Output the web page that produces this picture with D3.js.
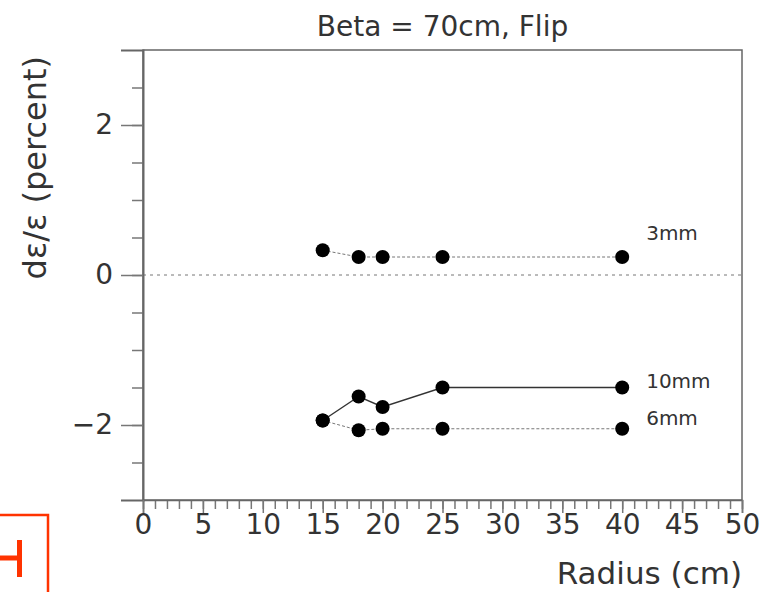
<!DOCTYPE html>
<html>
<head>
<meta charset="utf-8">
<script src="https://cdn.jsdelivr.net/npm/d3@7/dist/d3.min.js"></script>
<style>
body { margin: 0; background: #fff; }
text { font-family: "DejaVu Sans", sans-serif; fill: #333; }
</style>
</head>
<body>
<div id="chart"></div>
<script>
// values
var radius = [15, 18, 20, 25, 40];
var eps3mm = [0.33, 0.24, 0.24, 0.24, 0.24];
var eps10mm = [-1.94, -1.62, -1.76, -1.50, -1.50];
var eps6mm = [-1.94, -2.07, -2.05, -2.05, -2.05];
var seriesNames = ["3mm", "10mm", "6mm"];
var labelRadius = [42, 42, 42];
var labelEps = [0.56, -1.41, -1.91];
var xMajorTicks = [0, 5, 10, 15, 20, 25, 30, 35, 40, 45, 50];
var yMajorTicks = [-2, 0, 2];

var W = 767, H = 592;
var margin = {top: 50, right: 25, bottom: 92, left: 143},
    width = W - margin.left - margin.right,
    height = H - margin.top - margin.bottom;

var svg = d3.select("#chart").append("svg")
    .attr("width", W)
    .attr("height", H);

var g = svg.append("g")
    .attr("transform", "translate(" + margin.left + "," + margin.top + ")");

var x = d3.scaleLinear().domain([0, 50]).range([0, width]);
var y = d3.scaleLinear().domain([-3, 3]).range([height, 0]);

// frame
g.append("rect")
    .attr("width", width).attr("height", height)
    .attr("fill", "none").attr("stroke", "#666").attr("stroke-width", 1.5);

// zero line
g.append("line")
    .attr("x1", 0).attr("x2", width)
    .attr("y1", y(0)).attr("y2", y(0))
    .attr("stroke", "#777").attr("stroke-width", 1)
    .attr("stroke-dasharray", "3,4");

// y axis: minor + major ticks
var yMinor = d3.range(-2.5, 2.51, 0.5);
g.append("g").attr("class", "axis")
    .call(d3.axisLeft(y).tickValues(yMinor).tickSize(11).tickFormat(""))
    .call(function(a) { a.select(".domain").remove(); });
g.append("g").attr("class", "axis")
    .call(d3.axisLeft(y).tickValues(yMajorTicks).tickSize(22).tickPadding(8).tickFormat(d3.format("d")))
    .call(function(a) { a.select(".domain").attr("stroke", "#666").attr("stroke-width", 2); });

// x axis: minor + major ticks
g.append("g").attr("class", "axis")
    .attr("transform", "translate(0," + height + ")")
    .call(d3.axisBottom(x).tickValues(d3.range(0, 51, 1)).tickSize(9).tickFormat(""))
    .call(function(a) { a.select(".domain").remove(); });
g.append("g").attr("class", "axis")
    .attr("transform", "translate(0," + height + ")")
    .call(d3.axisBottom(x).tickValues(xMajorTicks).tickSize(13).tickPadding(1))
    .call(function(a) { a.select(".domain").attr("stroke", "#666").attr("stroke-width", 1.5); });

svg.selectAll(".axis .tick line").attr("stroke", "#777").attr("stroke-width", 1.5);
svg.selectAll(".axis text").style("font-size", "28px").attr("fill", "#333");

// series
var series = [
    {name: seriesNames[0], vals: eps3mm, stroke: "#777", w: 1, dash: "3,2"},
    {name: seriesNames[1], vals: eps10mm, stroke: "#333", w: 1.4, dash: null},
    {name: seriesNames[2], vals: eps6mm, stroke: "#777", w: 1, dash: "3,2"}
];

var line = d3.line()
    .x(function(d) { return x(d[0]); })
    .y(function(d) { return y(d[1]); });

series.forEach(function(s, i) {
    var pts = radius.map(function(r, j) { return [r, s.vals[j]]; });
    g.append("path")
        .attr("d", line(pts))
        .attr("fill", "none")
        .attr("stroke", s.stroke)
        .attr("stroke-width", s.w)
        .attr("stroke-dasharray", s.dash);
    g.selectAll(".pt" + i)
        .data(pts)
        .enter().append("circle")
        .attr("cx", function(d) { return x(d[0]); })
        .attr("cy", function(d) { return y(d[1]); })
        .attr("r", 7)
        .attr("fill", "#000");
    g.append("text")
        .attr("x", x(labelRadius[i]))
        .attr("y", y(labelEps[i]))
        .attr("dy", "0.35em")
        .style("font-size", "20px")
        .text(s.name);
});

// titles
svg.append("text")
    .attr("x", margin.left + width / 2)
    .attr("y", 36)
    .attr("text-anchor", "middle")
    .style("font-size", "28px")
    .text("Beta = 70cm, Flip");

svg.append("text")
    .attr("x", margin.left + width)
    .attr("y", 584)
    .attr("text-anchor", "end")
    .style("font-size", "31px")
    .text("Radius (cm)");

svg.append("text")
    .attr("transform", "translate(46," + (margin.top + 6) + ") rotate(-90)")
    .attr("text-anchor", "end")
    .style("font-size", "32px")
    .text("dε/ε (percent)");

// orange mark in the lower left corner
var orange = "#ff3300";
svg.append("rect")
    .attr("x", -10).attr("y", 515)
    .attr("width", 58).attr("height", 100)
    .attr("fill", "none").attr("stroke", orange).attr("stroke-width", 2.5);
svg.append("line")
    .attr("x1", 0).attr("x2", 20).attr("y1", 558).attr("y2", 558)
    .attr("stroke", orange).attr("stroke-width", 5);
svg.append("line")
    .attr("x1", 19.5).attr("x2", 19.5).attr("y1", 540).attr("y2", 577)
    .attr("stroke", orange).attr("stroke-width", 5);
</script>
</body>
</html>
